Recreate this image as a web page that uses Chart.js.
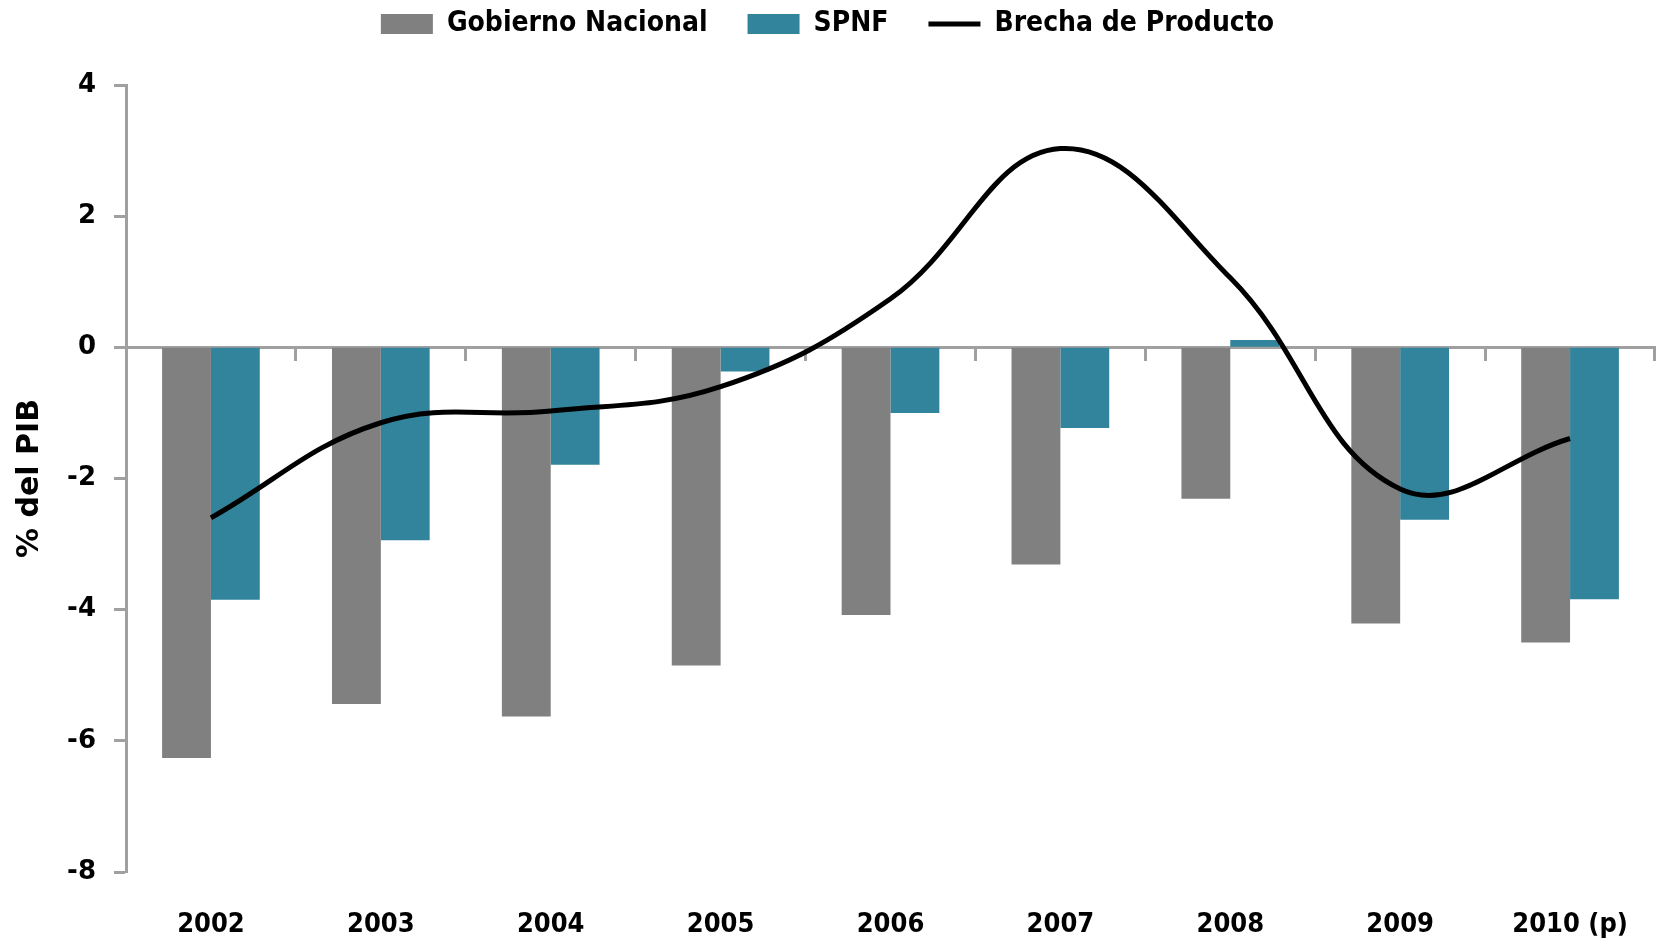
<!DOCTYPE html>
<html>
<head>
<meta charset="utf-8">
<script src="https://cdn.jsdelivr.net/npm/chart.js@4"></script>
<style>
  html, body { margin: 0; padding: 0; background: #ffffff; }
  #wrap { width: 1660px; height: 942px; }
</style>
</head>
<body>
<div id="wrap"><canvas id="grafico"></canvas></div>
<script>
const anos = ["2002", "2003", "2004", "2005", "2006", "2007", "2008", "2009", "2010 (p)"];
const gobiernoNacional = [-6.26, -5.44, -5.63, -4.85, -4.08, -3.31, -2.31, -4.21, -4.50];
const spnf = [-3.85, -2.94, -1.79, -0.37, -1.00, -1.23, 0.11, -2.63, -3.84];
const brechaProducto = [-2.60, -1.15, -0.97, -0.60, 0.74, 3.03, 1.06, -2.16, -1.39];
const ticksY = [4, 2, 0, -2, -4, -6, -8];

const fuente = "'DejaVu Sans Condensed', 'DejaVu Sans', sans-serif";
const gris = '#a0a0a0';

const ctx = document.getElementById('grafico').getContext('2d');
new Chart(ctx, {
    type: 'bar',
    data: {
        labels: anos,
        datasets: [
            {
                type: 'line',
                label: 'Brecha de Producto',
                data: brechaProducto,
                borderColor: '#000000',
                backgroundColor: '#000000',
                borderWidth: 5,
                pointRadius: 0,
                tension: 0.4,
                pointStyle: 'line',
                order: 0
            },
            {
                label: 'Gobierno Nacional',
                data: gobiernoNacional,
                backgroundColor: '#808080',
                pointStyle: 'rect',
                order: 1
            },
            {
                label: 'SPNF',
                data: spnf,
                backgroundColor: '#31849b',
                pointStyle: 'rect',
                order: 1
            }
        ]
    },
    options: {
        responsive: true,
        maintainAspectRatio: false,
        animation: false,
        categoryPercentage: 0.575,
        barPercentage: 1,
        layout: { padding: { left: 0, right: 5, top: -30, bottom: 0 } },
        plugins: {
            legend: {
                position: 'top',
                labels: {
                    usePointStyle: true,
                    pointStyleWidth: 52,
                    boxHeight: 20,
                    boxWidth: 52,
                    padding: 40,
                    color: '#000000',
                    font: { family: fuente, size: 28, weight: 'bold' },
                    sort: (a, b) => {
                        const orden = ['Gobierno Nacional', 'SPNF', 'Brecha de Producto'];
                        return orden.indexOf(a.text) - orden.indexOf(b.text);
                    }
                }
            },
            // espacio vacio entre la leyenda y el grafico
            title: {
                display: true,
                text: '',
                weight: 500,
                padding: { top: 36, bottom: 0 },
                font: { size: 1, lineHeight: 1 }
            },
            tooltip: { enabled: false }
        },
        scales: {
            x: {
                position: 'bottom',
                grid: { display: false },
                border: { display: false },
                ticks: {
                    color: '#000000',
                    padding: 29,
                    maxRotation: 0,
                    font: { family: fuente, size: 27, weight: 'bold' }
                },
                afterFit: s => { s.height = 70; }
            },
            x2: {
                type: 'category',
                position: { y: 0 },
                grid: {
                    offset: true,
                    drawOnChartArea: false,
                    tickLength: 12,
                    tickWidth: 3,
                    color: gris
                },
                border: { color: gris, width: 3 },
                ticks: { display: false }
            },
            y: {
                min: -8,
                max: 4,
                afterBuildTicks: s => { s.ticks = ticksY.map(v => ({ value: v })); },
                grid: {
                    drawOnChartArea: false,
                    tickLength: 12,
                    tickWidth: 3,
                    color: gris
                },
                border: { color: gris, width: 3 },
                ticks: {
                    color: '#000000',
                    padding: 18,
                    font: { family: "'DejaVu Sans', sans-serif", size: 26, weight: 'bold' }
                },
                title: {
                    display: true,
                    text: '% del PIB',
                    color: '#000000',
                    padding: { top: 12, bottom: 0 },
                    font: { family: "'DejaVu Sans', sans-serif", size: 30, weight: 'bold' }
                },
                afterFit: s => { s.width = 126; }
            }
        }
    }
});
</script>
</body>
</html>
